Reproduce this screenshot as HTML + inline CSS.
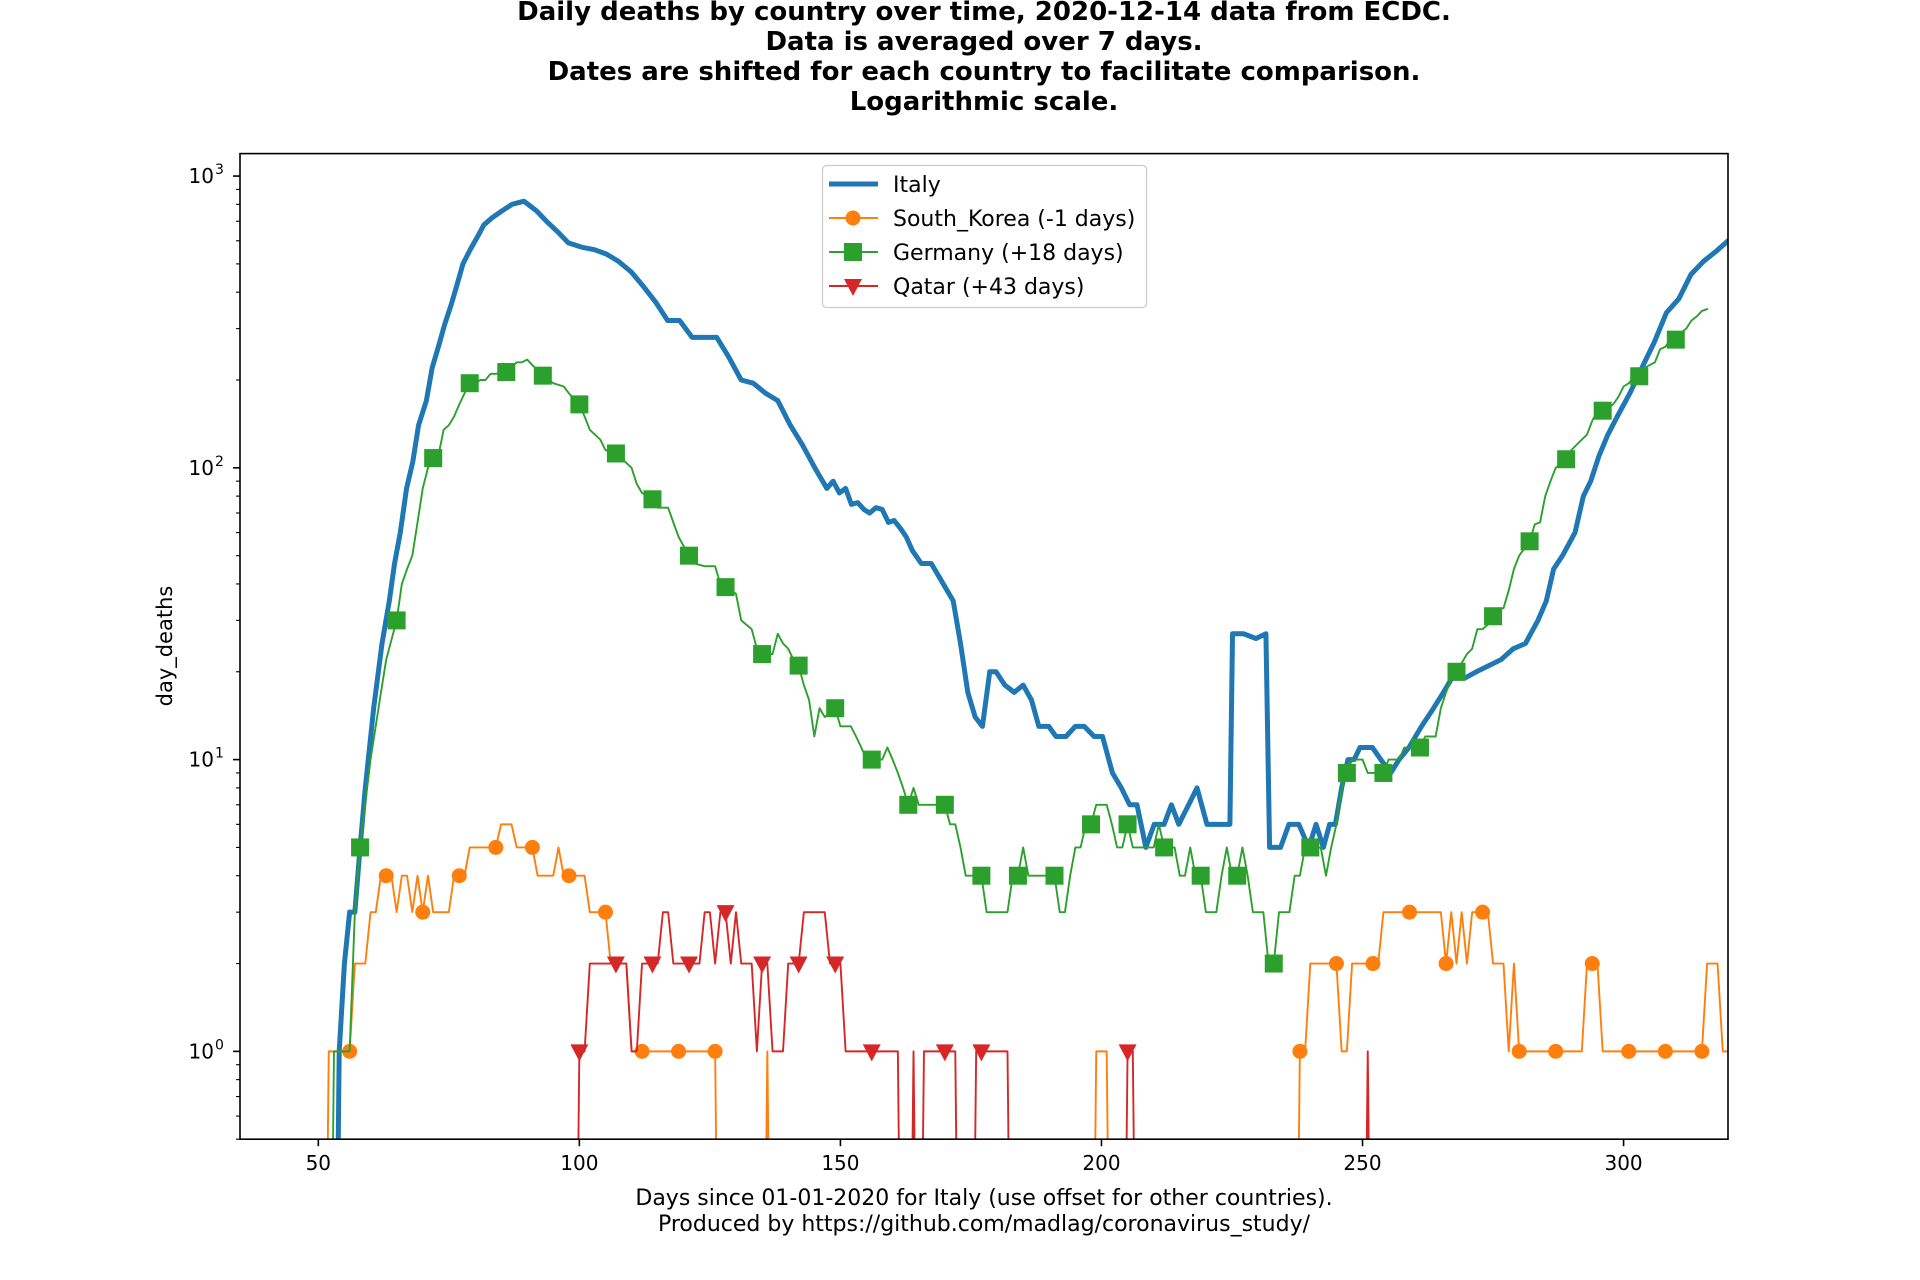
<!DOCTYPE html>
<html><head><meta charset="utf-8">
<style>
html,body{margin:0;padding:0;background:#fff;width:1920px;height:1280px;overflow:hidden;}
svg{display:block;font-family:"DejaVu Sans","Liberation Sans",sans-serif;}
</style></head>
<body>
<svg id="chart" width="1920" height="1280" viewBox="0 0 1920 1280" xmlns="http://www.w3.org/2000/svg">
  <rect x="0" y="0" width="1920" height="1280" fill="#fff"/>
  <g font-weight="bold" font-size="26" text-anchor="middle" fill="#000">
    <text x="984" y="20">Daily deaths by country over time, 2020-12-14 data from ECDC.</text>
    <text x="984" y="50">Data is averaged over 7 days.</text>
    <text x="984" y="80">Dates are shifted for each country to facilitate comparison.</text>
    <text x="984" y="110">Logarithmic scale.</text>
  </g>
  <defs><clipPath id="plotclip"><rect x="240" y="153.6" width="1488" height="985.6"/></clipPath></defs>
  <g id="series" clip-path="url(#plotclip)"></g>
  <g id="axes"></g>
  <text x="984" y="1205" font-size="22" text-anchor="middle">Days since 01-01-2020 for Italy (use offset for other countries).</text>
  <text x="984" y="1231" font-size="22" text-anchor="middle">Produced by https://github.com/madlag/coronavirus_study/</text>
  <text x="0" y="0" font-size="21" text-anchor="middle" transform="translate(172,646) rotate(-90)">day_deaths</text>
  <g id="legend"></g>
</svg>
<script>
const italyDays = [53,54,55,56,57,58,59,60.6,62.2,63.6,64.6,65.7,66.9,68.1,69.2,70.7,71.8,73,74.2,75.4,76.5,77.7,79.1,80.5,81.7,83.3,85.2,87.1,89.4,91.8,93.7,96,97.9,100.5,102.8,105.2,107.5,109.9,112.2,114.6,116.9,119.2,121.6,123.9,126.3,128.6,131,133.3,135.7,138,140.4,142.7,145.1,147.4,148.6,149.8,151,152.1,153.3,154.5,155.6,156.8,158,159.2,160.3,161.5,162.6,163.8,165.5,167.4,169.7,171.6,173,174.4,175.8,177.2,178.6,179.8,181.5,183.3,185,186.6,188,189.9,191.3,193.2,195,196.7,198.6,200.2,202.1,203.8,205.4,206.8,208.5,210.1,212,213.4,214.8,216.7,218.3,220.2,221.8,223.7,224.6,225.1,227.2,229.6,231.5,232.2,234.3,235.9,237.8,239.7,241.1,242.5,243.7,244.8,246,247.2,248.4,249.5,251.9,253.5,255.4,257,258.9,261.3,263.6,265.5,267.1,269.5,271.8,274.2,276.5,278.9,281.2,283.6,285.2,286.6,288.3,290.7,292.3,293.7,295.3,297,298.8,301.2,303.5,305.9,308.2,310.6,312.9,315.3,317.6,320];
const italyVals = [0,1,2,3,3,5,8,15,25,35,47,60,85,105,140,170,220,260,310,360,420,500,560,620,680,720,760,800,820,760,700,640,590,570,560,540,510,470,420,370,320,320,280,280,280,240,200,195,180,170,140,120,100,85,90,82,85,75,76,72,70,73,72,65,66,62,58,52,47,47,40,35,25,17,14,13,20,20,18,17,18,16,13,13,12,12,13,13,12,12,9,8,7,7,5,6,6,7,6,7,8,6,6,6,6,27,27,26,27,5,5,6,6,5,6,5,6,6,8,10,10,11,11,10,9,10,11,13,15,17,19,19,20,21,22,24,25,30,35,45,50,60,80,90,110,130,150,180,220,270,340,380,460,510,550,600];

const germanyDays = [52,53,56,57,58,60,62,63,65,66,67,68,69,70,71,72,73,74,75,76,77,78,79,80,81,82,83,84,86,88,89,90,91,93,95,97,98,100,101,102,104,105,107,108,110,111,112,114,115,117,118,119,121,122,124,126,127,128,130,131,133,134,135,137,138,139,140,141,142,143,144,145,146,147,149,150,152,153,154,155,156,158,159,160,161,162,163,164,165,166,170,171,172,173,174,177,178,182,183,184,185,186,187,190,191,192,193,194,195,196,197,198,199,201,202,203,204,205,206,207,208,209,210,211,212,213,214,215,216,217,218,219,220,222,223,224,225,226,227,228,229,231,232,233,234,235,236,237,238,239,240,241,242,243,244,245,246,247,248,250,251,252,254,255,257,258,260,261,262,264,265,266,267,268,270,271,272,273,274,275,276,277,278,279,280,282,283,284,285,286,287,289,290,291,292,293,294,295,296,297,298,299,300,301,302,303,304,305,306,307,308,309,310,311,312,313,314,315,316];
const germanyVals = [0,1,1,3,5,10,17,22,30,40,45,50,65,85,100,108,110,135,140,150,165,180,195,195,200,200,210,210,213,230,230,235,225,207,195,190,180,165,150,135,125,115,112,108,100,88,82,78,73,73,65,58,50,47,46,46,40,39,37,30,28,24,23,23,27,25,24,22,21,18,16,12,15,14,15,13,13,12,11,10,10,10,11,10,9,8,7,8,7,7,7,6,6,5,4,4,3,3,4,4,5,4,4,4,4,3,3,4,5,5,6,6,7,7,6,5,5,6,5,5,5,5,5,6,5,5,5,4,4,5,4,4,3,3,4,5,4,4,5,4,3,3,2,2,3,3,3,4,4,5,5,5,5,4,5,6,8,9,10,10,9,9,9,10,10,11,11,11,12,12,15,17,19,20,23,24,28,28,29,31,33,33,38,45,50,56,64,65,80,90,100,107,115,120,125,130,145,157,157,160,165,175,190,195,205,206,220,225,230,255,260,275,275,290,300,320,330,345,350];

const koreaDays = [51,52,56,57,59,60,61,62,64,65,66,67,68,69,70,71,72,75,76,78,79,84,85,87,88,91,92,95,96,97,101,102,105,106,109,110,126,127,135,136,137,198,199,201,202,237,238,239,240,245,246,247,248,253,254,265,266,267,268,269,270,271,274,275,277,278,279,280,292,293,295,296,315,316,318,319,320];
const koreaVals = [0,1,1,2,2,3,3,4,4,3,4,4,3,4,3,4,3,3,4,4,5,5,6,6,5,5,4,4,5,4,4,3,3,2,2,1,1,0,0,1,0,0,1,1,0,0,1,1,2,2,1,1,2,2,3,3,2,3,2,3,2,3,3,2,2,1,2,1,1,2,2,1,1,2,2,1,1];

const qatarDays = [99,100,101,102,109,110,111,112,115,116,117,118,123,124,125,126,127,128,129,130,131,133,134,135,136,137,139,140,142,143,147,148,150,151,161,162,163,164,165,166,172,173,175,176,182,183,204,205,206,207,250,251,252];
const qatarVals = [0,1,1,2,2,1,1,2,2,3,3,2,2,3,3,2,3,3,2,3,2,2,1,2,2,1,1,2,2,3,3,2,2,1,1,0,0,1,0,1,1,0,0,1,1,0,0,1,1,0,0,1,0];

const xTicks = [50,100,150,200,250,300];
const yTickExps = [0,1,2,3];
const legendLabels = ["Italy","South_Korea (-1 days)","Germany (+18 days)","Qatar (+43 days)"];

const NS = "http://www.w3.org/2000/svg";
const PL=240, PR=1728, PT=153.6, PB=1139.2;
const XMIN=35, XMAX=320, YMIN=0.5, YMAX=1194;
function X(d){ return PL + (d-XMIN)/(XMAX-XMIN)*(PR-PL); }
function Y(v){ if(v<=0) return PB+400; return PB - (Math.log10(v)-Math.log10(YMIN))/(Math.log10(YMAX)-Math.log10(YMIN))*(PB-PT); }
function mk(tag, attrs, parent){ const e=document.createElementNS(NS,tag); for(const k in attrs) e.setAttribute(k,attrs[k]); parent.appendChild(e); return e; }
function valAt(days, vals, d){
  for(let i=0;i<days.length-1;i++){ if(d>=days[i] && d<=days[i+1]){ const t=(d-days[i])/(days[i+1]-days[i]||1); return vals[i]+(vals[i+1]-vals[i])*t; } }
  return null;
}
function marker(shape, x, y, color, g){
  let e;
  if(shape==='circle') e=mk('circle',{cx:x,cy:y,r:7.5,fill:color},g);
  else if(shape==='square') e=mk('rect',{x:x-9,y:y-9,width:18,height:18,fill:color},g);
  else e=mk('polygon',{points:`${x-9},${y-7} ${x+9},${y-7} ${x},${y+10}`,fill:color},g);
  return e;
}
const series = document.getElementById('series');
function drawSeries(name, days, vals, color, width, shape, markStart){
  const g = mk('g',{},series);
  
  
  let d='';
  days.forEach((day,i)=>{ d += (i?'L':'M')+X(day).toFixed(2)+' '+Y(vals[i]).toFixed(2)+' '; });
  const p = mk('path',{d:d,fill:'none',stroke:color,'stroke-width':width,'stroke-linejoin':'round','stroke-linecap':'square'},g);
  
  
  if(shape){
    for(let day=markStart; day<=days[days.length-1]; day+=7){
      const v = valAt(days, vals, day);
      if(v===null || v<=0) continue;
      const m = marker(shape, X(day), Y(v), color, g);
      
      
    }
  }
}
drawSeries('south-korea', koreaDays, koreaVals, '#ff7f0e', 1.9, 'circle', 56);
drawSeries('germany', germanyDays, germanyVals, '#2ca02c', 1.9, 'square', 58);
drawSeries('qatar', qatarDays, qatarVals, '#d62728', 1.9, 'triangle', 100);
drawSeries('italy', italyDays, italyVals, '#1f77b4', 5, null, 0);
series.insertBefore(series.lastChild, series.firstChild);

const axes = document.getElementById('axes');
const frame = mk('rect',{x:PL,y:PT,width:PR-PL,height:PB-PT,fill:'none',stroke:'#000','stroke-width':1.6},axes);


xTicks.forEach(t=>{
  const x=X(t);
  const tk = mk('line',{x1:x,y1:PB,x2:x,y2:PB+7,stroke:'#000','stroke-width':1.6},axes);
  
  
  const lb = mk('text',{x:x,y:PB+31,'font-size':20,'text-anchor':'middle'},axes);
  lb.textContent = String(t);
  
  
});
yTickExps.forEach(e=>{
  const y=Y(Math.pow(10,e));
  const tk = mk('line',{x1:PL-7,y1:y,x2:PL,y2:y,stroke:'#000','stroke-width':1.6},axes);
  
  
  const lb = mk('text',{x:PL-26,y:y+7,'font-size':20,'text-anchor':'end'},axes);
  lb.textContent='10';
  
  
  const sp = mk('text',{x:PL-25,y:y-2,'font-size':14,'text-anchor':'start'},axes);
  sp.textContent=String(e);
  
  
});
for(let e=-1;e<=3;e++){
  for(let m=2;m<=9;m++){
    const v=m*Math.pow(10,e);
    if(v<YMIN||v>YMAX) continue;
    const y=Y(v);
    const tk = mk('line',{x1:PL-4,y1:y,x2:PL,y2:y,stroke:'#000','stroke-width':1.1},axes);
    
    
  }
}

const legend = document.getElementById('legend');
const lbox = mk('rect',{x:822.5,y:165.5,width:324,height:142,rx:4,fill:'#fff','fill-opacity':0.8,stroke:'#ccc','stroke-width':1.3},legend);


const legColors=['#1f77b4','#ff7f0e','#2ca02c','#d62728'];
const legShapes=[null,'circle','square','triangle'];
const legY=[184,218,252,286];
legendLabels.forEach((lab,i)=>{
  const g = mk('g',{},legend);
  
  
  mk('line',{x1:829,y1:legY[i],x2:878,y2:legY[i],stroke:legColors[i],'stroke-width':i===0?5:1.9},g);
  if(legShapes[i]) marker(legShapes[i],853,legY[i],legColors[i],g);
  const t = mk('text',{x:893,y:legY[i]+8,'font-size':22},g);
  t.textContent=lab;
});
</script>
</body></html>
